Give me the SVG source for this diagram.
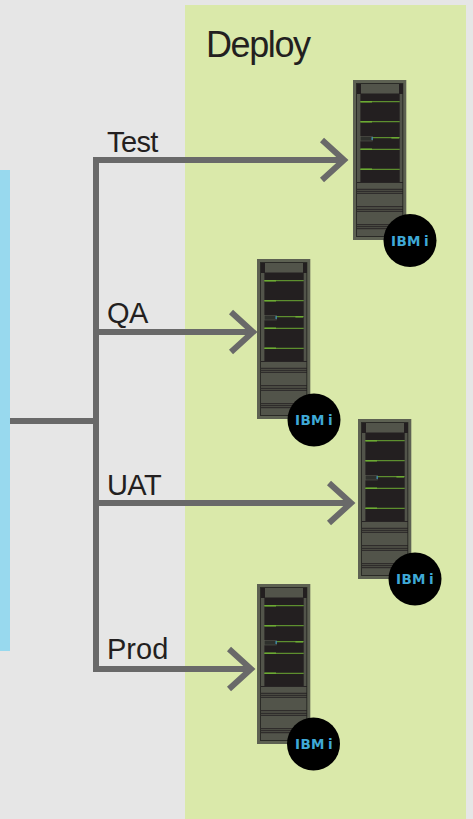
<svg xmlns="http://www.w3.org/2000/svg" width="473" height="819" viewBox="0 0 473 819">
<style>
.lbl{font-family:"Liberation Sans",Arial,sans-serif;font-size:29px;letter-spacing:-.6px;fill:#231f20}
.head{font-size:36px;letter-spacing:-1.4px}
.wire{fill:none;stroke:#696969;stroke-width:6}
.ibm{font-family:"DejaVu Sans",sans-serif;font-weight:bold;font-size:13.500px;letter-spacing:.4px;word-spacing:-2px;fill:#3fa9d6}
.g{stroke:#6cab33;fill:none;stroke-width:1}
.G{stroke:#6cab33;fill:none;stroke-width:1.6}
.k{stroke:#231f20;fill:none;stroke-width:.9}
</style>
<defs>
<g id="rack">
<rect width="53.3" height="160" fill="#5d6152"/>
<rect x="3.500" y="3.500" width="46.300" height="153" fill="#52544a" stroke="#2a2a26" stroke-width="1"/>
<rect x="4" y="4" width="4" height="10" fill="#231f20"/>
<rect x="46" y="4" width="4" height="10" fill="#231f20"/>
<rect x="7.400" y="13.500" width="39.300" height="88.500" fill="#231f20"/>
<path class="g" d="M7.400 21.700H46.700M7.400 41.700H46.700M19 57.700H46.700M7.400 69.300H46.700M7.400 89.300H46.700"/>
<path class="G" d="M7.400 21.700H19M7.400 41.700H19M38.400 57.700H46M7.400 69.300H19M7.400 89.300H19"/>
<rect x="7.400" y="56.500" width="12" height="4.500" fill="#2e302c" stroke="#55584e" stroke-width=".6"/>
<rect x="18.600" y="57" width="1" height="3" fill="#3fa9d6"/>
<path class="k" d="M4 102.500H50M4 109.300H50M4 111.300H50M4 113.300H50M4 126.700H50M4 129.300H50M4 131.300H50M4 144.700H50M4 146.700H50M4 148.700H50"/>
</g>
<path id="head" class="wire" d="M-22 -20L0 0L-22 20"/>
</defs>
<rect width="473" height="819" fill="#e6e6e6"/>
<rect x="185" y="5" width="281" height="814" fill="#dae9aa"/>
<rect x="0" y="170" width="10" height="481" fill="#98d9ee"/>
<text class="lbl head" x="206" y="57">Deploy</text>
<g id="connectors">
<path class="wire" d="M343 160H96V669H250M10 421H96M96 332H253M96 503H351"/>
<use href="#head" x="344" y="160"/>
<use href="#head" x="253" y="332"/>
<use href="#head" x="351" y="503"/>
<use href="#head" x="251" y="669"/>
<text class="lbl" x="107" y="152">Test</text>
<text class="lbl" x="107" y="323">QA</text>
<text class="lbl" x="107" y="495">UAT</text>
<text class="lbl" x="107" y="659" style="letter-spacing:0">Prod</text>
</g>
<g id="node-test"><use href="#rack" x="353" y="80"/><circle cx="410" cy="240.500" r="26.500"/><text class="ibm" x="391" y="246">IBM i</text></g>
<g id="node-qa"><use href="#rack" x="257" y="259"/><circle cx="314" cy="420" r="26.500"/><text class="ibm" x="295" y="425">IBM i</text></g>
<g id="node-uat"><use href="#rack" x="358" y="419"/><circle cx="415" cy="579" r="26.500"/><text class="ibm" x="396" y="584">IBM i</text></g>
<g id="node-prod"><use href="#rack" x="257" y="584"/><circle cx="313.500" cy="744" r="26.500"/><text class="ibm" x="295" y="749">IBM i</text></g>
</svg>
